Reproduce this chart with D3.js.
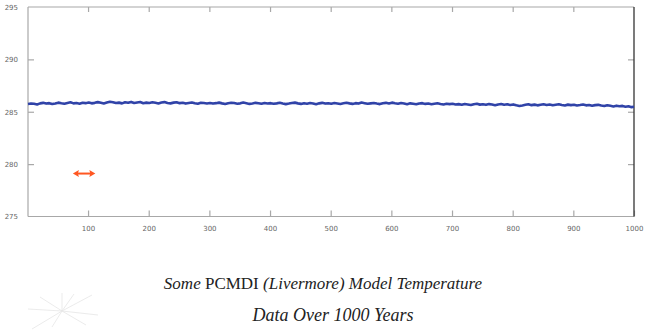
<!DOCTYPE html>
<html>
<head>
<meta charset="utf-8">
<script src="https://cdn.jsdelivr.net/npm/d3@7"></script>
<style>
html,body{margin:0;padding:0;background:#fff;}
svg{display:block;}
</style>
</head>
<body>
<svg id="chart" width="649" height="330"></svg>
<script>
// ---- data ----
const yearStep = 5;
const temps = [
285.74,285.79,285.76,285.70,285.80,285.85,285.78,285.82,285.74,285.79,285.87,285.81,285.76,285.84,285.90,285.80,285.83,285.77,285.86,285.82,
285.88,285.80,285.85,285.92,285.86,285.79,285.88,285.95,285.90,285.83,285.87,285.80,285.91,285.86,285.94,285.84,285.89,285.93,285.82,285.87,
285.84,285.90,285.86,285.79,285.88,285.92,285.83,285.80,285.87,285.91,285.82,285.86,285.78,285.84,285.89,285.81,285.76,285.85,285.83,285.79,
285.84,285.78,285.82,285.87,285.80,285.74,285.81,285.86,285.83,285.77,285.80,285.88,285.82,285.75,285.79,285.85,285.81,285.76,285.84,285.79,
285.82,285.76,285.80,285.86,285.79,285.73,285.78,285.84,285.87,285.80,285.75,285.82,285.77,285.83,285.79,285.72,285.80,285.85,285.78,285.81,
285.76,285.83,285.79,285.74,285.81,285.86,285.80,285.75,285.82,285.78,285.88,285.82,285.76,285.80,285.84,285.78,285.73,285.81,285.85,285.79,
285.87,285.81,285.76,285.83,285.78,285.72,285.80,285.76,285.71,285.79,285.82,285.75,285.79,285.72,285.77,285.81,285.74,285.69,285.77,285.73,
285.76,285.69,285.73,285.67,285.74,285.70,285.64,285.72,285.76,285.68,285.71,285.66,285.73,285.69,285.63,285.70,285.74,285.67,285.71,285.65,
285.70,285.62,285.55,285.60,285.66,285.71,285.63,285.68,285.61,285.67,285.72,285.65,285.69,285.62,285.67,285.71,285.64,285.60,285.68,285.63,
285.67,285.60,285.64,285.69,285.61,285.65,285.58,285.63,285.66,285.59,285.55,285.62,285.57,285.51,285.58,285.53,285.56,285.48,285.52,285.44,285.47
];
const xTicks = [100,200,300,400,500,600,700,800,900,1000];
const yTicks = [275,280,285,290,295];
const titleLine1 = [
  {t:"Some ", script:true},
  {t:"PCMDI ", script:false},
  {t:"(Livermore) Model Temperature", script:true}
];
const titleLine2 = "Data Over 1000 Years";
const arrowSpan = [75, 112];   // years
const arrowLevel = 279.1;      // K

// ---- layout ----
const svg = d3.select("#chart");
const L = 28, R = 634, T = 7, B = 216.5;
const x = d3.scaleLinear().domain([1, 1000]).range([L, R]);
const y = d3.scaleLinear().domain([275, 295]).range([B, T]);
const axisGray = "#a8a8a8";
const labelColor = "#666";

// frame: top & left & bottom in gray, right dark
svg.append("line").attr("x1",L).attr("x2",R).attr("y1",T).attr("y2",T).attr("stroke",axisGray).attr("stroke-width",1.2);
svg.append("line").attr("x1",L).attr("x2",R).attr("y1",B).attr("y2",B).attr("stroke",axisGray).attr("stroke-width",1.2);
svg.append("line").attr("x1",L).attr("x2",L).attr("y1",T).attr("y2",B).attr("stroke",axisGray).attr("stroke-width",1.2);

// bottom axis (ticks inward)
const xb = svg.append("g").attr("transform",`translate(0,${B})`)
  .call(d3.axisBottom(x).tickValues(xTicks).tickSizeInner(-6).tickSizeOuter(0).tickPadding(10).tickFormat(d3.format("d")));
xb.select(".domain").remove();
xb.selectAll(".tick line").attr("stroke",axisGray).attr("stroke-width",1.2);
xb.selectAll(".tick text").attr("fill",labelColor).style("font-family","'DejaVu Sans', sans-serif").style("font-size","7px");

// top axis ticks
const xt = svg.append("g").attr("transform",`translate(0,${T})`)
  .call(d3.axisTop(x).tickValues(xTicks.slice(0,-1)).tickSizeInner(-5).tickSizeOuter(0).tickFormat(""));
xt.select(".domain").remove();
xt.selectAll(".tick line").attr("stroke",axisGray).attr("stroke-width",1.2);

// left axis
const yl = svg.append("g").attr("transform",`translate(${L},0)`)
  .call(d3.axisLeft(y).tickValues(yTicks).tickSizeInner(-6).tickSizeOuter(0).tickPadding(10).tickFormat(d3.format("d")));
yl.select(".domain").remove();
yl.selectAll(".tick line").attr("stroke",axisGray).attr("stroke-width",1.2)
  .filter(d => d===275 || d===295).remove();
yl.selectAll(".tick text").attr("fill",labelColor).style("font-family","'DejaVu Sans', sans-serif").style("font-size","7px");

// right axis ticks
const yr = svg.append("g").attr("transform",`translate(${R},0)`)
  .call(d3.axisRight(y).tickValues(yTicks.slice(1,-1)).tickSizeInner(-6).tickSizeOuter(0).tickFormat(""));
yr.select(".domain").remove();
yr.selectAll(".tick line").attr("stroke",axisGray).attr("stroke-width",1.2);

svg.append("line").attr("x1",R).attr("x2",R).attr("y1",T).attr("y2",B).attr("stroke","#333").attr("stroke-width",1.3);

// data line
const pts = temps.map((v,i) => [Math.min(1000, 1 + i*yearStep), v]);
svg.append("path").datum(pts)
  .attr("fill","none").attr("stroke","#3043a8").attr("stroke-width",2.6).attr("stroke-linejoin","round")
  .attr("d", d3.line().x(d=>x(d[0])).y(d=>y(d[1])));

// orange double arrow
const ax1 = x(arrowSpan[0]), ax2 = x(arrowSpan[1]), ay = y(arrowLevel);
const orange = "#ff5722";
svg.append("line").attr("x1",ax1+3).attr("x2",ax2-3).attr("y1",ay).attr("y2",ay).attr("stroke",orange).attr("stroke-width",2);
svg.append("path").attr("fill",orange)
  .attr("d",`M${ax1},${ay} L${ax1+6},${ay-3.5} L${ax1+5},${ay} L${ax1+6},${ay+3.5} Z`);
svg.append("path").attr("fill",orange)
  .attr("d",`M${ax2},${ay} L${ax2-6},${ay-3.5} L${ax2-5},${ay} L${ax2-6},${ay+3.5} Z`);

// faint starburst decoration bottom-left
const burst = svg.append("g").attr("stroke","#e6e6e6").attr("stroke-width",0.8);
const cx = 62, cy = 311;
[[-30,18],[30,-16],[-22,-14],[24,14],[-34,-2],[36,4],[0,-18],[-10,16],[12,-17]].forEach(([dx,dy]) => {
  burst.append("line").attr("x1",cx).attr("y1",cy).attr("x2",cx+dx).attr("y2",cy+dy);
});

// title
const t1 = svg.append("text").attr("x",323).attr("y",289).attr("text-anchor","middle")
  .attr("fill","#222").style("font-size","17px");
titleLine1.forEach(s => {
  t1.append("tspan").text(s.t)
    .style("font-family", "'Liberation Serif', 'DejaVu Serif', serif")
    .style("font-style", s.script ? "italic" : "normal");
});
svg.append("text").attr("x",333).attr("y",321).attr("text-anchor","middle")
  .attr("fill","#222").style("font-size","18px")
  .style("font-family","'Liberation Serif', 'DejaVu Serif', serif").style("font-style","italic")
  .text(titleLine2);
</script>
</body>
</html>
